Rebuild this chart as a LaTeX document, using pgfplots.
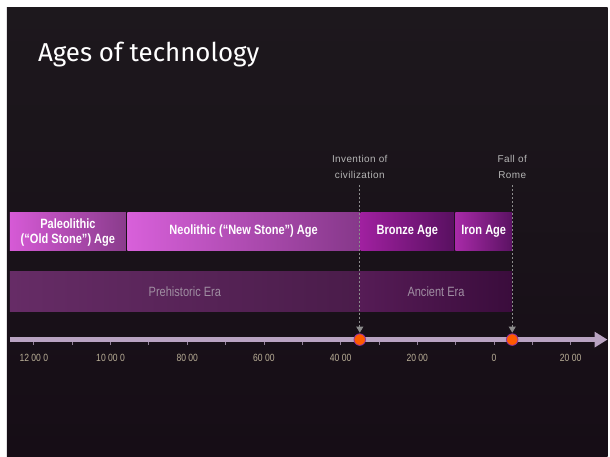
\documentclass[border=0pt]{standalone}
\usepackage{fontspec}
\setmainfont{Liberation Sans}
\newfontfamily\titlefont{Fira Sans}
\newfontfamily\condfont[FakeStretch=0.82]{Liberation Sans}
\newfontfamily\markfont[LetterSpace=4]{Liberation Sans}
\usepackage{pgfplots}
\pgfplotsset{compat=1.18}
\usetikzlibrary{arrows.meta}
\definecolor{bgtop}{HTML}{1D181D}
\definecolor{bgbot}{HTML}{160D16}
\definecolor{axisc}{HTML}{B9A3C2}
\definecolor{tickc}{HTML}{B8AE96}
\definecolor{palA}{HTML}{D65AD6}
\definecolor{palB}{HTML}{8A3C8C}
\definecolor{neoA}{HTML}{D860DA}
\definecolor{neoB}{HTML}{86388A}
\definecolor{broA}{HTML}{A020A0}
\definecolor{broB}{HTML}{581060}
\definecolor{iroA}{HTML}{A82AA8}
\definecolor{iroB}{HTML}{5A1262}
\definecolor{preA}{HTML}{662C66}
\definecolor{preB}{HTML}{4A1C4A}
\definecolor{ancA}{HTML}{561C56}
\definecolor{ancB}{HTML}{3A0C3C}
\definecolor{eratext}{HTML}{A08EA2}
\definecolor{marktext}{HTML}{B4B4B4}
\definecolor{dashc}{HTML}{8C8C8C}
\definecolor{markorange}{HTML}{FF5A00}
\definecolor{markedge}{HTML}{9030A0}
\begin{document}
\begin{tikzpicture}
\begin{axis}[
  set layers,
  scale only axis,
  width=603pt, height=450pt,
  xmin=-12701, xmax=2961,
  ymin=-117, ymax=333,
  clip=false,
  axis x line=middle,
  axis y line=none,
  axis line style={draw=axisc, line width=5pt, shorten <=3pt, -{Triangle[length=13pt,width=15pt]}},
  scaled x ticks=false,
  xtick={-12000,-10000,...,2000},
  minor xtick={-11000,-9000,...,1000},
  xticklabels={12 00 0,10 00 0,80 00,60 00,40 00,20 00,0,20 00},
  tick align=outside,
  major tick length=5pt,
  minor tick length=5pt,
  tick style={draw=axisc!80!black, line width=0.8pt},
  xticklabel style={font=\condfont\fontsize{10.5}{12}\selectfont, text=tickc, yshift=-6pt},
  ytick=\empty,
]
\begin{pgfonlayer}{axis background}
\fill[white] (axis cs:-12883,341) rectangle (axis cs:2961,-117);
\shade[top color=bgtop, bottom color=bgbot] (axis cs:-12701,333) rectangle (axis cs:2961,-117);
\end{pgfonlayer}

% Ages
\addplot[draw=none, left color=palA, right color=palB] coordinates {(-12623,89) (-9600,89) (-9600,128) (-12623,128)} -- cycle;
\addplot[draw=none, left color=neoA, right color=neoB] coordinates {(-9560,89) (-3500,89) (-3500,128) (-9560,128)} -- cycle;
\addplot[draw=none, left color=broA, right color=broB] coordinates {(-3480,89) (-1040,89) (-1040,128) (-3480,128)} -- cycle;
\addplot[draw=none, left color=iroA, right color=iroB] coordinates {(-1010,89) (476,89) (476,128) (-1010,128)} -- cycle;
% Eras
\addplot[draw=none, left color=preA, right color=preB] coordinates {(-12623,28) (-3500,28) (-3500,68) (-12623,68)} -- cycle;
\addplot[draw=none, left color=ancA, right color=ancB] coordinates {(-3500,28) (476,28) (476,68) (-3500,68)} -- cycle;

% Event lines
\addplot[draw=dashc, line width=0.8pt, dash pattern=on 2pt off 2pt, -{Triangle[length=6pt,width=7pt]}] coordinates {(-3500,155) (-3500,7)};
\addplot[draw=dashc, line width=0.8pt, dash pattern=on 2pt off 2pt, -{Triangle[length=6pt,width=7pt]}] coordinates {(476,155) (476,7)};
\addplot[only marks, mark=*, mark size=5.8pt, mark options={fill=markorange, draw=markedge, line width=0.8pt}] coordinates {(-3500,0) (476,0)};

% Labels
\node[anchor=base west, inner sep=0pt, text=white, font=\titlefont\fontsize{26}{30}\selectfont] at (axis cs:-11896,279) {Ages of technology};

\node[text=white, align=center, font=\condfont\bfseries\fontsize{13.5}{15}\selectfont] at (axis cs:-11112,107.5) {Paleolithic\\(“Old Stone”) Age};
\node[text=white, font=\condfont\bfseries\fontsize{13.5}{15}\selectfont] at (axis cs:-6530,108.5) {Neolithic (“New Stone”) Age};
\node[text=white, font=\condfont\bfseries\fontsize{13.5}{15}\selectfont] at (axis cs:-2260,108.5) {Bronze Age};
\node[text=white, font=\condfont\bfseries\fontsize{13.5}{15}\selectfont] at (axis cs:-267,108.5) {Iron Age};

\node[text=eratext, font=\condfont\fontsize{13.5}{14}\selectfont] at (axis cs:-8062,48) {Prehistoric Era};
\node[text=eratext, font=\condfont\fontsize{13.5}{14}\selectfont] at (axis cs:-1512,48) {Ancient Era};

\node[text=marktext, align=center, font=\markfont\fontsize{10}{16}\selectfont] at (axis cs:-3500,173) {Invention of\\civilization};
\node[text=marktext, align=center, font=\markfont\fontsize{10}{16}\selectfont] at (axis cs:476,173) {Fall of\\Rome};
\end{axis}
\end{tikzpicture}
\end{document}
